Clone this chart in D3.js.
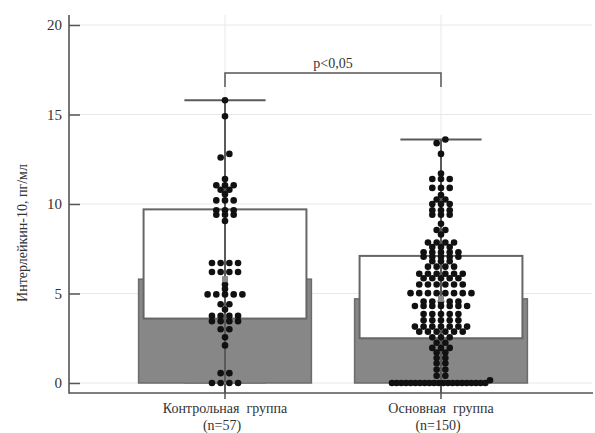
<!DOCTYPE html>
<html>
<head>
<meta charset="utf-8">
<script src="https://cdn.jsdelivr.net/npm/d3@7"></script>
<style>
  body { margin: 0; background: #fff; }
  svg text { font-family: "Liberation Serif", "DejaVu Serif", serif !important; fill: #333; }
</style>
</head>
<body>
<div id="chart"></div>
<script>
const categories = ['Контрольная  группа', 'Основная  группа'];
const sampleSizes = ['(n=57)', '(n=150)'];
const barValues = [5.8, 4.7];
const boxLow = [3.6, 2.5];
const boxHigh = [9.7, 7.1];
const whiskerLow = [0, 0];
const whiskerHigh = [15.8, 13.6];
const yTicks = [0, 5, 10, 15, 20];
const pLabel = 'p<0,05';

const controlValues = [15.8, 14.9, 12.8, 12.6, 11.4, 11.05, 11.05, 11.05, 10.8, 10.8,
  10.55, 10.2, 10.2, 10.2, 9.65, 9.65, 9.65, 9.4, 9.4, 9.4, 9.05,
  6.7, 6.7, 6.7, 6.7, 6.2, 6.2, 6.2, 6.2, 5.5, 5.25,
  4.95, 4.95, 4.95, 4.95, 4.95, 4.4, 4.4, 4.1,
  3.75, 3.75, 3.75, 3.75, 3.45, 3.45, 3.45, 3.45, 3.0, 3.0, 2.55, 2.1,
  0.55, 0.55, 0, 0, 0, 0];

const mainValues = [13.6, 13.4, 12.8, 11.7, 11.4, 11.4, 11.4, 10.9, 10.9, 10.9,
  10.5, 10.25, 10.25, 10.0, 10.0, 10.0, 9.65, 9.65, 9.65, 9.4, 9.4, 9.4,
  8.9, 8.55, 8.55, 8.3,
  7.85, 7.85, 7.85, 7.85, 7.6, 7.6, 7.6, 7.3, 7.3, 7.3, 7.3, 7.3,
  7.05, 7.05, 7.05, 7.05, 7.05, 6.8, 6.8, 6.8, 6.5, 6.5, 6.5, 6.5,
  6.1, 6.1, 6.1, 6.1, 6.1, 6.1, 5.85, 5.85, 5.85, 5.85, 5.85,
  5.5, 5.5, 5.5, 5.5, 5.5, 5.5, 5.02, 5.02, 5.02, 5.02, 5.02, 5.02, 5.02, 5.02,
  4.55, 4.55, 4.55, 4.55, 4.55, 4.3, 4.3, 4.3, 4.3, 4.3, 4.3, 4.3,
  3.85, 3.85, 3.85, 3.85, 3.85, 3.5, 3.5, 3.5, 3.5, 3.5,
  3.15, 3.15, 3.15, 3.15, 3.15, 3.15, 3.15, 2.87, 2.87, 2.87, 2.87, 2.87, 2.87,
  2.55, 2.55, 2.55, 2.25, 2.25, 1.96, 1.96, 1.96, 1.7, 1.7, 1.4, 1.4, 1.1, 1.1,
  0.75, 0.75, 0.4, 0.4, 0.15,
  0, 0, 0, 0, 0, 0, 0, 0, 0, 0, 0, 0, 0, 0, 0, 0, 0, 0, 0, 0, 0];

const groups = [controlValues, mainValues];

const width = 595, height = 433;
const axisX = 69, axisY = 393, axisTop = 15;
const dotR = 3.3, dotStep = 8.7, maxRow = 98;

const svg = d3.select('#chart').append('svg')
  .attr('width', width)
  .attr('height', height);

const y = d3.scaleLinear().domain([0, 20]).range([383, 25]);
const x = d3.scaleBand().domain(categories).range([117, 549]);
const bw = x.bandwidth();
const cx = d => x(d) + bw / 2;

// grid
const grid = svg.append('g').attr('stroke', '#e8e8e8').attr('stroke-width', 1);
grid.selectAll('.h').data(yTicks).enter().append('line')
  .attr('x1', axisX + 1).attr('x2', 592)
  .attr('y1', d => y(d)).attr('y2', d => y(d));
grid.selectAll('.v').data(categories).enter().append('line')
  .attr('x1', cx).attr('x2', cx)
  .attr('y1', axisTop).attr('y2', axisY);

// bars (gray) and boxes (white)
svg.append('g').selectAll('rect').data(categories).enter().append('rect')
  .attr('x', d => cx(d) - bw * 0.4)
  .attr('width', bw * 0.8)
  .attr('y', (d, i) => y(barValues[i]))
  .attr('height', (d, i) => y(0) - y(barValues[i]))
  .attr('fill', '#878787')
  .attr('stroke', '#6b6b6b')
  .attr('stroke-width', 1.5);

svg.append('g').selectAll('rect').data(categories).enter().append('rect')
  .attr('x', d => cx(d) - bw * 0.377)
  .attr('width', bw * 0.754)
  .attr('y', (d, i) => y(boxHigh[i]))
  .attr('height', (d, i) => y(boxLow[i]) - y(boxHigh[i]))
  .attr('fill', '#fff')
  .attr('stroke', '#666')
  .attr('stroke-width', 2);

// whiskers
const wk = svg.append('g').attr('stroke', '#5a5a5a').attr('stroke-width', 2);
wk.selectAll('.stem').data(categories).enter().append('line')
  .attr('x1', cx).attr('x2', cx)
  .attr('y1', (d, i) => y(whiskerHigh[i]))
  .attr('y2', axisY);
wk.selectAll('.capHi').data(categories).enter().append('line')
  .attr('x1', d => cx(d) - bw * 0.188).attr('x2', d => cx(d) + bw * 0.188)
  .attr('y1', (d, i) => y(whiskerHigh[i])).attr('y2', (d, i) => y(whiskerHigh[i]));
wk.selectAll('.capLo').data(categories).enter().append('line')
  .attr('x1', d => cx(d) - bw * 0.188).attr('x2', d => cx(d) + bw * 0.188)
  .attr('y1', (d, i) => y(whiskerLow[i])).attr('y2', (d, i) => y(whiskerLow[i]))
  .attr('stroke', '#7a7a7a');

// swarm: values close in y share a row, spread around the centre
function swarm(values, center) {
  const sorted = values.slice().sort((a, b) => a - b);
  const rows = [];
  sorted.forEach(v => {
    const last = rows[rows.length - 1];
    if (last && Math.abs(y(v) - y(last[0])) < 4) last.push(v);
    else rows.push([v]);
  });
  const pts = [];
  rows.forEach(r => {
    const step = r.length > 1 ? Math.min(dotStep, maxRow / (r.length - 1)) : 0;
    r.forEach((v, i) => pts.push({ x: center + (i - (r.length - 1) / 2) * step, y: y(v) }));
  });
  return pts;
}

groups.forEach((vals, gi) => {
  svg.append('g').selectAll('circle')
    .data(swarm(vals, cx(categories[gi])))
    .enter().append('circle')
    .attr('cx', d => d.x)
    .attr('cy', d => d.y)
    .attr('r', dotR)
    .attr('fill', '#111');
});

// centre markers
svg.append('g').selectAll('rect').data(categories).enter().append('rect')
  .attr('x', d => cx(d) - 3)
  .attr('y', (d, i) => y(barValues[i]) - 3)
  .attr('width', 6).attr('height', 6)
  .attr('fill', '#8a8a8a');

// axes
const yAxis = d3.axisLeft(y).tickValues(yTicks).tickSizeInner(-11).tickSizeOuter(0).tickPadding(7);
const gy = svg.append('g').attr('transform', `translate(${axisX},0)`).call(yAxis);
gy.select('.domain').remove();
gy.selectAll('.tick line').attr('stroke', '#555').attr('stroke-width', 1.5);
gy.selectAll('.tick text').attr('font-size', 15).attr('fill', '#444');

const xAxis = d3.axisBottom(x).tickSize(6).tickFormat('');
const gx = svg.append('g').attr('transform', `translate(0,${axisY})`).call(xAxis);
gx.select('.domain').remove();
gx.selectAll('.tick line').attr('stroke', '#555').attr('stroke-width', 1.5);

svg.append('line')
  .attr('x1', axisX).attr('x2', axisX)
  .attr('y1', axisTop).attr('y2', axisY + 0.75)
  .attr('stroke', '#555').attr('stroke-width', 1.6);
svg.append('line')
  .attr('x1', axisX).attr('x2', 593)
  .attr('y1', axisY).attr('y2', axisY)
  .attr('stroke', '#555').attr('stroke-width', 1.6);

// category labels
const lab = svg.append('g').attr('text-anchor', 'middle').attr('font-size', 14);
lab.selectAll('.c').data(categories).enter().append('text')
  .attr('x', cx).attr('y', 413)
  .style('white-space', 'pre')
  .text(d => d);
lab.selectAll('.n').data(sampleSizes).enter().append('text')
  .attr('x', (d, i) => cx(categories[i]) - 3).attr('y', 430)
  .text(d => d);

// y title
svg.append('text')
  .attr('transform', 'translate(27,233) rotate(-90)')
  .attr('text-anchor', 'middle')
  .attr('font-size', 14)
  .text('Интерлейкин-10, пг/мл');

// significance bracket
const bx1 = cx(categories[0]), bx2 = cx(categories[1]), by = 73;
svg.append('path')
  .attr('d', `M${bx1},${by + 14}V${by}H${bx2}V${by + 14}`)
  .attr('fill', 'none')
  .attr('stroke', '#555')
  .attr('stroke-width', 1.5);
svg.append('text')
  .attr('x', (bx1 + bx2) / 2).attr('y', 68)
  .attr('text-anchor', 'middle')
  .attr('font-size', 14)
  .text(pLabel);
</script>
</body>
</html>
